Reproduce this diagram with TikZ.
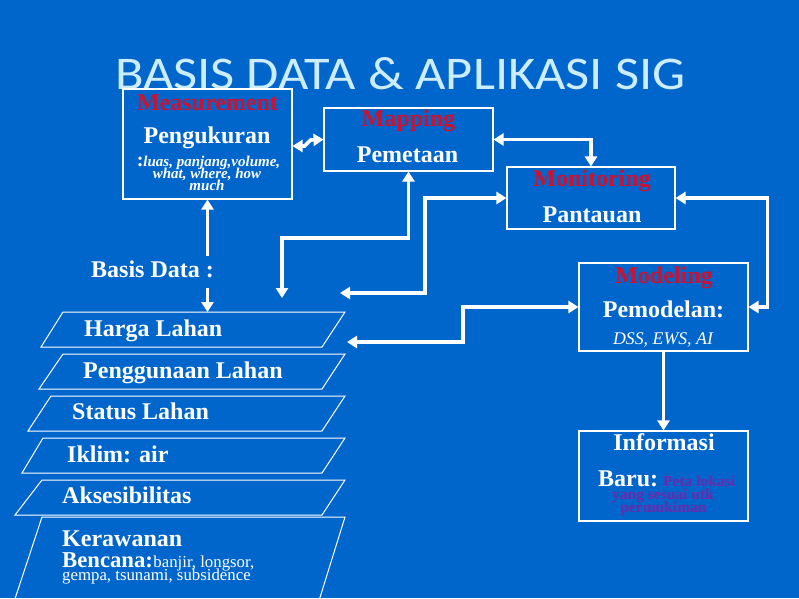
\documentclass[tikz,border=0pt]{standalone}
\usepackage{graphicx}
\usepackage{fontspec}
\setmainfont{Liberation Serif}
\newfontfamily\titlefont{Carlito}
\usetikzlibrary{arrows.meta,calc}
\definecolor{bgblue}{RGB}{0,102,204}
\definecolor{titlecol}{RGB}{204,236,255}
\definecolor{redtxt}{RGB}{204,18,48}
\definecolor{purptxt}{RGB}{112,40,170}
\newcommand{\bigb}{\fontsize{24}{24}\selectfont\bfseries}
\begin{document}
\begin{tikzpicture}[x=1pt,y=-1pt,
  box/.style={draw=white,line width=1.1pt,inner sep=0pt},
  para/.style={draw=white,line width=1pt},
  txt/.style={text=white,inner sep=0pt,anchor=base,font=\bigb},
  redt/.style={txt,text=redtxt},
  smalli/.style={text=white,inner sep=0pt,anchor=base,font=\fontsize{15}{15}\selectfont\bfseries\itshape},
  purp/.style={text=purptxt,inner sep=0pt,anchor=base,font=\fontsize{15.5}{15.5}\selectfont\bfseries},
  reg/.style={text=white,inner sep=0pt,anchor=base west,font=\fontsize{16.8}{16.8}\selectfont},
  tip/.tip={Triangle[length=10pt,width=12pt]},
  arr/.style={draw=white,line width=3.6pt,-tip},
  dbl/.style={draw=white,line width=3.6pt,tip-tip},
]
\useasboundingbox (0,0) rectangle (799,598);
\fill[bgblue] (0,0) rectangle (799,598);
\clip (0,0) rectangle (799,598);

% title
\node[anchor=north west,inner sep=0pt,text=titlecol] (title) at (115,57)
  {\resizebox{570pt}{32pt}{\titlefont BASIS DATA \& APLIKASI SIG}};

% boxes
\node[box,minimum width=169pt,minimum height=110pt] (meas) at (207.5,144) {};
\node[box,minimum width=169pt,minimum height=63pt] (mapp) at (408.5,139.5) {};
\node[box,minimum width=168pt,minimum height=62pt] (mon) at (591,198) {};
\node[box,minimum width=169pt,minimum height=88pt] (mod) at (663.5,307) {};
\node[box,minimum width=169pt,minimum height=90pt] (info) at (663.5,476) {};

% box texts
\node[redt] (m1) at (207.5,110) {Measurement};
\node[txt] (m2) at (207,143) {Pengukuran};
\node[smalli] (m3) at (208.5,166) {{\upshape\fontsize{20}{20}\selectfont :}luas, panjang,volume,};
\node[smalli] (m4) at (207,178) {what, where, how};
\node[smalli] (m5) at (207,190.5) {much};

\node[redt] (p1) at (408.5,126) {Mapping};
\node[txt] (p2) at (407.5,162) {Pemetaan};

\node[redt] (n1) at (592,186) {Monitoring};
\node[txt] (n2) at (592,222) {Pantauan};

\node[redt] (d1) at (664,283) {Modeling};
\node[txt] (d2) at (663.5,317) {Pemodelan:};
\node[text=white,inner sep=0pt,anchor=base,font=\fontsize{17.8}{17.8}\selectfont\itshape] (d3) at (663,344) {DSS, EWS, AI};

\node[txt] (i1) at (664,450) {Informasi};
\node[txt,anchor=base west] (i2) at (598,486) {Baru:};
\node[purp,anchor=base west] (i3) at (663,486) {Peta lokasi};
\node[purp] (i4) at (663,499) {yang sesuai utk};
\node[purp] (i5) at (663.5,512.5) {permukiman};

% basis data
\node[txt] (basis) at (152.5,277) {Basis Data :};

% parallelograms
\draw[para] (63,312) -- (345,312) -- (322,347) -- (41,347) -- cycle;
\draw[para] (63,354) -- (345,354) -- (322,389) -- (39,389) -- cycle;
\draw[para] (51,396) -- (345,396) -- (322,431) -- (28,431) -- cycle;
\draw[para] (43,438) -- (345,438) -- (322,473) -- (22,473) -- cycle;
\draw[para] (42,480) -- (345,480) -- (322,515) -- (15,515) -- cycle;
\draw[para] (42,517) -- (345,517) -- (313,620) -- (8,620) -- cycle;
\coordinate (hargatop) at (205,312);

\node[txt,anchor=base west] (l1) at (84,336) {Harga Lahan};
\node[txt,anchor=base west] (l2) at (83,378) {Penggunaan Lahan};
\node[txt,anchor=base west] (l3) at (72,419) {Status Lahan};
\node[txt,anchor=base west] (l4) at (67,462) {Iklim: air};
\node[txt,anchor=base west] (l5) at (62,503) {Aksesibilitas};
\node[txt,anchor=base west] (l6) at (62,546) {Kerawanan};
\node[txt,anchor=base west,font=\fontsize{22.7}{22.7}\selectfont\bfseries] (l7) at (62,567) {Bencana:};
\node[reg] (l8) at (l7.base east) {banjir, longsor,};
\node[reg] (l9) at (62,580.5) {gempa, tsunami, subsidence};

% connectors
\path (basis.north) ++(0,-4) coordinate (bup0);
\coordinate (bup) at (bup0 -| meas.south);
\draw[arr] (bup) -- (meas.south);
\path (basis.south) ++(0,10) coordinate (bdn0);
\coordinate (bdn) at (bdn0 -| meas.south);
\draw[arr] (bdn) -- (hargatop -| meas.south);

\path (meas.east) ++(0,2) coordinate (z1);
\draw[dbl,line join=miter] (z1) -- ++(12,0) -- ++(6,-6) -- (mapp.west);

\coordinate (c1) at (282,298);
\draw[dbl] (c1) -- ++(0,-60) -| (mapp.south);

\draw[dbl] (mapp.east) -| (mon.north);

\coordinate (c2) at (340,293);
\draw[dbl] (c2) -- ++(85,0) |- (mon.west);

\coordinate (c3) at (347,342);
\draw[dbl] (c3) -- ++(116,0) |- (mod.west);

\draw[dbl] (mon.east) -- ++(92,0) |- (mod.east);

\draw[arr] (mod.south) -- (info.north);
\end{tikzpicture}
\end{document}
